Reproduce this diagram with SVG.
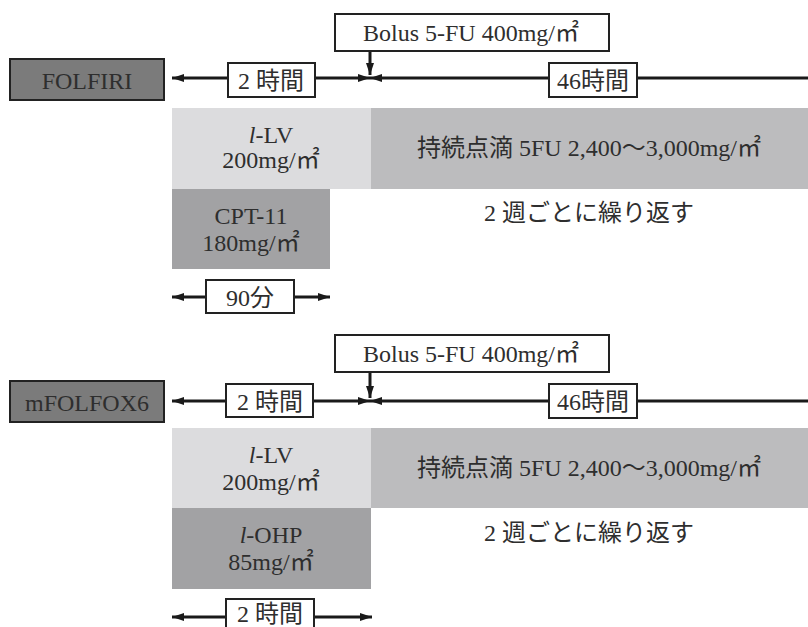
<svg xmlns="http://www.w3.org/2000/svg" width="808" height="627" viewBox="0 0 808 627">
<style>
text{font-family:"Liberation Serif","Noto Sans CJK JP",serif;font-size:24px;fill:#2e2e2e;text-anchor:middle}
.lbl{fill:#fff;stroke:#222;stroke-width:2}
.reg{fill:#7b7b7b;stroke:#222;stroke-width:2}
.lv{fill:#dcdcde}
.fu{fill:#bcbcbe}
.dk{fill:#a2a2a4}
.ln{stroke:#1a1a1a;stroke-width:3;fill:none}
</style>
<defs>
<marker id="ah" viewBox="0 0 12 8" refX="12" refY="4" markerWidth="12" markerHeight="8" markerUnits="userSpaceOnUse" orient="auto">
<path d="M0,0 L12,4 L0,8 Z" fill="#1a1a1a"/>
</marker>
</defs>
<rect width="808" height="627" fill="#fff"/>

<g id="connectors">
<line class="ln" x1="228" y1="78" x2="172" y2="78" marker-end="url(#ah)"/>
<line class="ln" x1="315" y1="78" x2="370" y2="78" marker-end="url(#ah)"/>
<line class="ln" x1="808" y1="78" x2="370" y2="78" marker-end="url(#ah)"/>
<line class="ln" x1="370" y1="51" x2="370" y2="75" marker-end="url(#ah)"/>
<line class="ln" x1="206" y1="297" x2="172" y2="297" marker-end="url(#ah)"/>
<line class="ln" x1="294" y1="297" x2="330" y2="297" marker-end="url(#ah)"/>

<line class="ln" x1="226" y1="401" x2="172" y2="401" marker-end="url(#ah)"/>
<line class="ln" x1="313" y1="401" x2="370" y2="401" marker-end="url(#ah)"/>
<line class="ln" x1="808" y1="401" x2="370" y2="401" marker-end="url(#ah)"/>
<line class="ln" x1="370" y1="372" x2="370" y2="398" marker-end="url(#ah)"/>
<line class="ln" x1="226" y1="617" x2="172" y2="617" marker-end="url(#ah)"/>
<line class="ln" x1="314" y1="617" x2="372" y2="617" marker-end="url(#ah)"/>
</g>

<g id="folfiri">
<rect class="reg" x="10" y="59" width="154" height="41"/>
<text x="87" y="89">FOLFIRI</text>
</g>
<g id="bolus1">
<rect class="lbl" x="335" y="14" width="274" height="37"/>
<text x="471" y="41">Bolus 5-FU 400mg/㎡</text>
</g>
<g id="t2h1">
<rect class="lbl" x="228" y="63" width="87" height="34"/>
<text x="271" y="89">2 時間</text>
</g>
<g id="t46h1">
<rect class="lbl" x="549" y="63" width="88" height="34"/>
<text x="593" y="89">46時間</text>
</g>
<g id="lv1">
<rect class="lv" x="172" y="108" width="199" height="81"/>
<text x="271" y="143"><tspan font-style="italic">l</tspan>-LV</text>
<text x="271" y="168">200mg/㎡</text>
</g>
<g id="fu1">
<rect class="fu" x="371" y="108" width="437" height="81"/>
<text x="589" y="156">持続点滴 5FU 2,400～3,000mg/㎡</text>
</g>
<g id="cpt11">
<rect class="dk" x="172" y="189" width="158" height="80"/>
<text x="251" y="224">CPT-11</text>
<text x="251" y="251">180mg/㎡</text>
</g>
<g id="rep1">
<text x="589" y="221">2 週ごとに繰り返す</text>
</g>
<g id="t90">
<rect class="lbl" x="206" y="280" width="88" height="33"/>
<text x="250" y="306">90分</text>
</g>

<g id="mfolfox6">
<rect class="reg" x="10" y="381" width="154" height="41"/>
<text x="87" y="411">mFOLFOX6</text>
</g>
<g id="bolus2">
<rect class="lbl" x="335" y="335" width="274" height="37"/>
<text x="471" y="362">Bolus 5-FU 400mg/㎡</text>
</g>
<g id="t2h2">
<rect class="lbl" x="226" y="384" width="87" height="33"/>
<text x="270" y="410">2 時間</text>
</g>
<g id="t46h2">
<rect class="lbl" x="549" y="384" width="88" height="34"/>
<text x="593" y="410">46時間</text>
</g>
<g id="lv2">
<rect class="lv" x="172" y="428" width="199" height="80"/>
<text x="271" y="463"><tspan font-style="italic">l</tspan>-LV</text>
<text x="271" y="490">200mg/㎡</text>
</g>
<g id="fu2">
<rect class="fu" x="371" y="428" width="437" height="80"/>
<text x="589" y="476">持続点滴 5FU 2,400～3,000mg/㎡</text>
</g>
<g id="lohp">
<rect class="dk" x="172" y="508" width="199" height="81"/>
<text x="271" y="543"><tspan font-style="italic">l</tspan>-OHP</text>
<text x="271" y="570">85mg/㎡</text>
</g>
<g id="rep2">
<text x="589" y="541">2 週ごとに繰り返す</text>
</g>
<g id="t2h3">
<rect class="lbl" x="226" y="599" width="88" height="34"/>
<text x="270" y="622">2 時間</text>
</g>
</svg>
